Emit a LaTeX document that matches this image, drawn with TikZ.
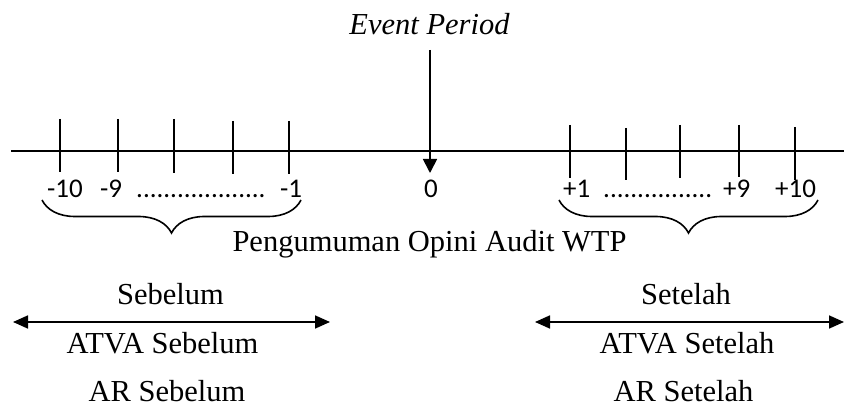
\documentclass[tikz,border=0pt]{standalone}
\usepackage{fontspec}
\setmainfont{Liberation Serif}
\newfontfamily\numfont{Carlito}
\usetikzlibrary{arrows.meta,decorations.pathreplacing}
\tikzset{
  axisline/.style={line width=1.7pt},
  tickmark/.style={line width=1.7pt},
  numlbl/.style={inner sep=0pt,anchor=base west,font=\numfont\fontsize{27}{32}\selectfont},
  txt/.style={inner sep=0pt,anchor=base,font=\fontsize{30.5}{36}\selectfont},
  bracestyle/.style={line width=1.6pt,decorate,decoration={brace,mirror,amplitude=33pt}},
  twoway/.style={line width=1.7pt,{Triangle[length=15pt,width=13pt]}-{Triangle[length=15pt,width=13pt]}},
  eventarrow/.style={line width=1.7pt,-{Triangle[length=14pt,width=14pt]}}
}
\begin{document}
\begin{tikzpicture}[x=1pt,y=-1pt]
\useasboundingbox (0,0) rectangle (844,411);

% time axis
\coordinate (axL) at (11,151);
\coordinate (axR) at (844,151);
\draw[axisline] (axL) -- (axR);

% ticks before the event
\foreach \x/\t/\b in {60/119/172,118/119/172,174/119/173,233/121/174,289/121/174}
  \draw[tickmark] (\x,\t) -- (\x,\b);
% ticks after the event
\foreach \x/\t/\b in {570/125/178,626/128/180,680/125/178,739/125/177,795/127/180}
  \draw[tickmark] (\x,\t) -- (\x,\b);

% event period marker
\node[txt,font=\itshape\fontsize{30.5}{36}\selectfont] (ev) at (429.5,35) {Event Period};
\coordinate (evtop) at (430,50);
\coordinate (evtip) at (430,173);
\draw[eventarrow] (evtop) -- (evtip);

% day labels
\node[numlbl] (m10) at (47,198) {-10};
\node[numlbl] (m9) at (100,198) {-9};
\node[numlbl] (mdots) at (136,198) {...................};
\node[numlbl] (m1) at (280,198) {-1};
\node[numlbl,anchor=base] (z0) at (431,198) {0};
\node[numlbl] (p1) at (563,198) {+1};
\node[numlbl] (pdots) at (603,198) {................};
\node[numlbl] (p9) at (723,198) {+9};
\node[numlbl] (p10) at (775,198) {+10};

% braces grouping the windows
\coordinate (bLa) at (42,200);
\coordinate (bLb) at (301,200);
\coordinate (bRa) at (559,200);
\coordinate (bRb) at (818,200);
\draw[bracestyle] (bLa) -- (bLb);
\draw[bracestyle] (bRa) -- (bRb);

\node[txt] (ann) at (429.5,252) {Pengumuman Opini Audit WTP};

% before window
\node[txt] (seb) at (170.5,305) {Sebelum};
\coordinate (sbL) at (13,322);
\coordinate (sbR) at (330,322);
\draw[twoway] (sbL) -- (sbR);
\node[txt] (atvaseb) at (162.5,354) {ATVA Sebelum};
\node[txt] (arseb) at (167,402) {AR Sebelum};

% after window
\node[txt] (set) at (686,305) {Setelah};
\coordinate (stL) at (535,322);
\coordinate (stR) at (844,322);
\draw[twoway] (stL) -- (stR);
\node[txt] (atvaset) at (687,354) {ATVA Setelah};
\node[txt] (arset) at (683.5,402) {AR Setelah};
\end{tikzpicture}
\end{document}
